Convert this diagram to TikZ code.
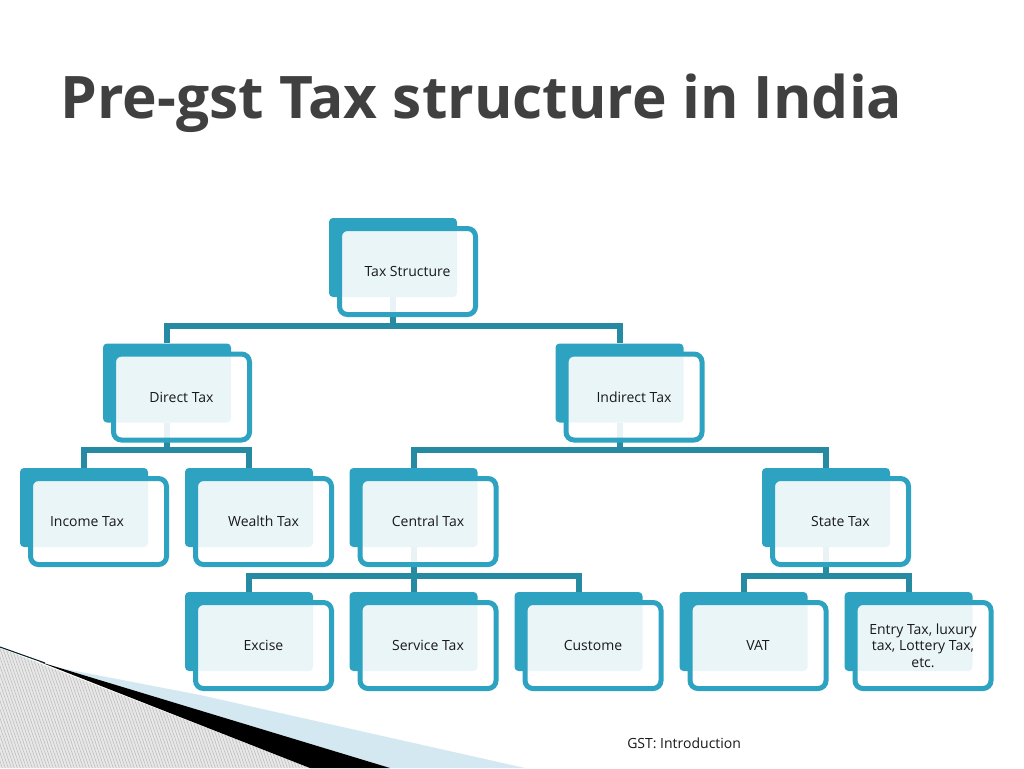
\documentclass[tikz,border=0pt]{standalone}
\usepackage{fontspec}
\setmainfont{Open Sans}
\usetikzlibrary{backgrounds}
\pgfdeclarelayer{bottom}
\pgfsetlayers{bottom,background,main}
\definecolor{teal1}{RGB}{46,163,193}
\definecolor{connc}{RGB}{38,138,163}
\definecolor{titlegray}{RGB}{64,64,64}
\definecolor{hatchbg}{RGB}{232,232,232}
\definecolor{hatchln}{RGB}{190,190,190}
\definecolor{wedgeblue}{RGB}{212,232,242}
\newcommand\taxnode[5][0]{%
  \node[backbox] (#2-b) at (#3-14.5,#4-14) {};
  \node[frontbox] (#2) at (#3,#4) {};
  \node[lbl] (#2-t) at (#3+#1,#4) {#5};
}
\begin{document}
\begin{tikzpicture}[x=0.75pt,y=-0.75pt,
  backbox/.style={fill=teal1, draw=none, rounded corners=3pt, inner sep=0pt,
    minimum width=96pt, minimum height=59.25pt},
  frontbox/.style={draw=teal1, line width=3.75pt, fill=white, fill opacity=0.9,
    draw opacity=1, rounded corners=6pt, inner sep=0pt,
    minimum width=102pt, minimum height=64.5pt},
  lbl/.style={font=\fontsize{10.5pt}{12.5pt}\selectfont, text=black!90, align=center, inner sep=0pt},
  connline/.style={draw=connc, line width=4.5pt}
]
\useasboundingbox (0,0) rectangle (1024,768);
\begin{pgfonlayer}{bottom}
  \fill[white] (0,0) rectangle (1024,768);
\end{pgfonlayer}

% bottom-left decoration
\begin{scope}
  \clip (0,648) -- (310,768) -- (0,768) -- cycle;
  \fill[hatchbg] (0,640) rectangle (320,768);
  \foreach \i in {-60,-57,...,330} {
    \draw[hatchln, line width=0.45pt] (\i,640) -- ++(45,130);
  }
\end{scope}
\fill[wedgeblue] (60,668) -- (200,695) -- (525,768) -- (390,768) -- cycle;
\draw[black!80!teal1, line width=0.8pt] (0,647) -- (45,663);
\fill[black] (40,662) -- (390,768) -- (310,768) -- cycle;

% title
\node[anchor=base west, inner sep=0pt, text=titlegray,
  font=\fontsize{44pt}{48pt}\selectfont\bfseries] (title) at (60,118) {Pre-gst Tax structure in India};

% nodes
\taxnode{ts}{407.5}{271.5}{Tax Structure}
\taxnode{dt}{181.5}{397}{Direct Tax}
\taxnode{it}{634}{397}{Indirect Tax}
\taxnode[-11.5]{inc}{98.5}{521.5}{Income Tax}
\taxnode{wt}{263.5}{521.5}{Wealth Tax}
\taxnode{ct}{428}{521.5}{Central Tax}
\taxnode{st}{840.5}{521.5}{State Tax}
\taxnode{ex}{263.5}{645.5}{Excise}
\taxnode{sv}{428}{645.5}{Service Tax}
\taxnode{cu}{593}{645.5}{Custome}
\taxnode{vat}{758}{645.5}{VAT}
\taxnode{en}{923}{645.5}{Entry Tax, luxury\\tax, Lottery Tax,\\etc.}

% connectors
\coordinate (bar1) at (0,326);
\coordinate (bar2) at (0,450);
\coordinate (bar3) at (0,576);
\begin{scope}[on background layer]
  \draw[connline] (ts-b.south) -- (ts-b.south |- bar1) -| (dt-b.north);
  \draw[connline] (ts-b.south |- bar1) -| (it-b.north);
  \draw[connline] (dt-b.south) -- (dt-b.south |- bar2) -| (inc-b.north);
  \draw[connline] (dt-b.south |- bar2) -| (wt-b.north);
  \draw[connline] (it-b.south) -- (it-b.south |- bar2) -| (ct-b.north);
  \draw[connline] (it-b.south |- bar2) -| (st-b.north);
  \draw[connline] (ct-b.south) -- (ct-b.south |- bar3) -| (ex-b.north);
  \draw[connline] (ct-b.south |- bar3) -| (sv-b.north);
  \draw[connline] (ct-b.south |- bar3) -| (cu-b.north);
  \draw[connline] (st-b.south) -- (st-b.south |- bar3) -| (vat-b.north);
  \draw[connline] (st-b.south |- bar3) -| (en-b.north);
\end{scope}

% footer
\node[anchor=base west, inner sep=0pt, font=\fontsize{10.5pt}{12pt}\selectfont, text=black!90] (footer) at (627,748) {GST: Introduction};
\end{tikzpicture}
\end{document}
